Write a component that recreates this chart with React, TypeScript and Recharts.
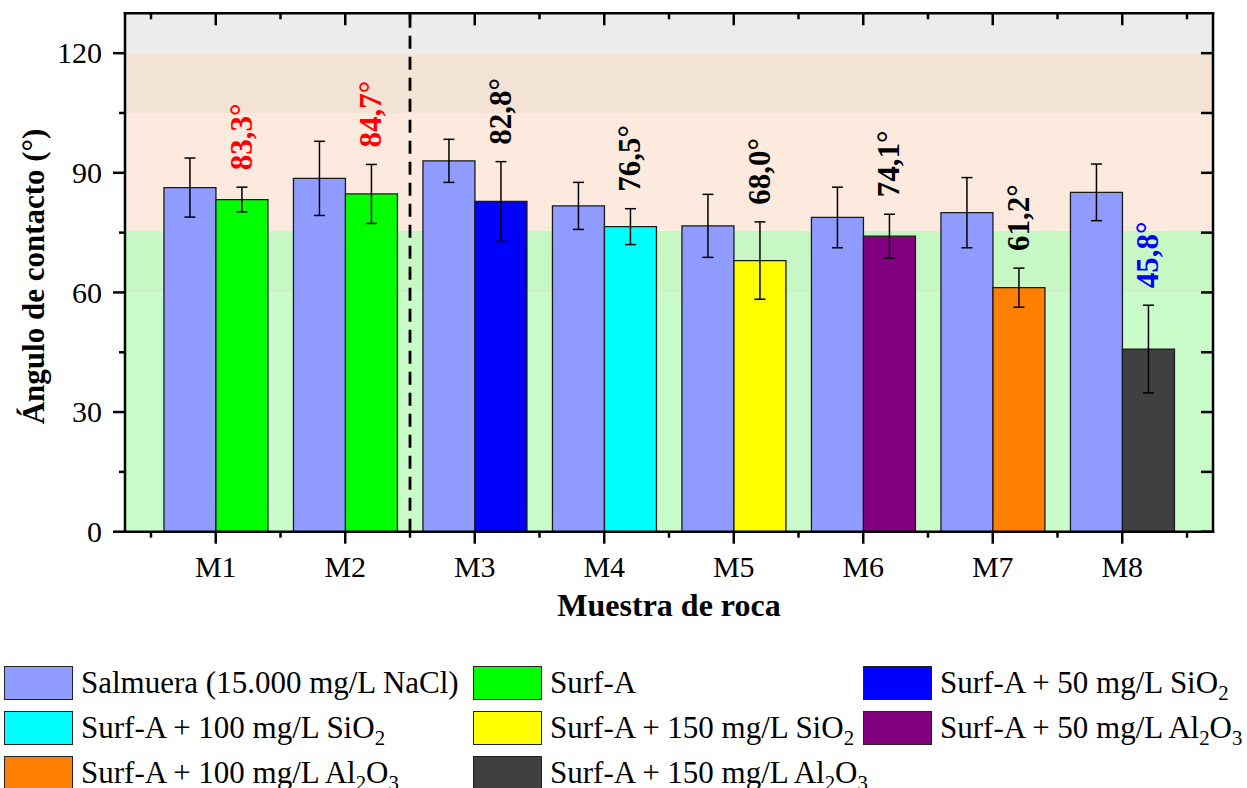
import React from 'react';
import { BarChart, Bar, XAxis, YAxis, ErrorBar, Cell, LabelList, ReferenceArea, ReferenceLine, Label } from 'recharts';

const SERIF = '"Liberation Serif", "Times New Roman", serif';

// datos
const muestras = ['M1', 'M2', 'M3', 'M4', 'M5', 'M6', 'M7', 'M8'];
const salmuera = [86.3, 88.6, 93.0, 81.7, 76.7, 78.8, 80.0, 85.1];
const salmueraErr = [7.4, 9.3, 5.4, 5.9, 7.9, 7.6, 8.8, 7.1];
const tratamiento = [83.3, 84.7, 82.8, 76.5, 68.0, 74.1, 61.2, 45.8];
const tratamientoErr = [3.1, 7.4, 10.0, 4.5, 9.7, 5.5, 4.9, 11.0];
const tratamientoColores = ['#00ff00', '#00ff00', '#0000ff', '#00ffff', '#ffff00', '#800080', '#ff8000', '#404040'];
const etiquetaColores = ['#ff0000', '#ff0000', '#000000', '#000000', '#000000', '#000000', '#000000', '#0000ff'];

const yTicks = [0, 15, 30, 45, 60, 75, 90, 105, 120];

// franjas de fondo (límites en grados)
const franjaLimites = [0, 60, 75.5, 105, 120, 130];
const franjaColores = ['#cafcc9', '#c7f8c4', '#fdeadf', '#f2e3d5', '#ececec'];

const separador = 'M2'; // línea discontinua al final de M2

const leyendaNombres = [
  'Salmuera (15.000 mg/L NaCl)',
  'Surf-A',
  'Surf-A + 50 mg/L SiO2',
  'Surf-A + 100 mg/L SiO2',
  'Surf-A + 150 mg/L SiO2',
  'Surf-A + 50 mg/L Al2O3',
  'Surf-A + 100 mg/L Al2O3',
  'Surf-A + 150 mg/L Al2O3',
];
const leyendaColores = ['#8f9bff', '#00ff00', '#0000ff', '#00ffff', '#ffff00', '#800080', '#ff8000', '#404040'];

const data = muestras.map((name, i) => ({
  name,
  salmuera: salmuera[i],
  salmueraErr: salmueraErr[i],
  tratamiento: tratamiento[i],
  tratamientoErr: tratamientoErr[i],
}));

// geometría
const W = 1247;
const LEFT_W = 125;
const RIGHT_M = 33;
const PAD = 26;
const PLOT_W = W - LEFT_W - RIGHT_M - 1;
const BAND = (PLOT_W - 2 * PAD) / muestras.length;

const fmt = (v: number) => v.toFixed(1).replace('.', ',') + '°';

const LeftTick = (props: any) => {
  const { x, y, payload } = props;
  const major = payload.value % 30 === 0;
  return (
    <g>
      <line x1={x} y1={y} x2={x - (major ? 12 : 6)} y2={y} stroke="#000" strokeWidth={2.5} />
      {major && (
        <text x={x - 23} y={y} dy="0.34em" textAnchor="end" fontSize={30} fontFamily={SERIF} fill="#000">
          {payload.value}
        </text>
      )}
    </g>
  );
};

const RightTick = (props: any) => {
  const { x, y } = props;
  return <line x1={x} y1={y} x2={x - 12} y2={y} stroke="#000" strokeWidth={2.5} />;
};

// marcas menores a mitad de camino entre categorías
const minorXs = (x: number, index: number) => {
  const xs = [x - BAND / 2];
  if (index === muestras.length - 1) xs.push(x + BAND / 2);
  return xs;
};

const BottomTick = (props: any) => {
  const { x, y, payload, index } = props;
  return (
    <g>
      <line x1={x} y1={y} x2={x} y2={y + 12} stroke="#000" strokeWidth={2.5} />
      {minorXs(x, index).map((mx) => (
        <line key={mx} x1={mx} y1={y} x2={mx} y2={y + 6} stroke="#000" strokeWidth={2.5} />
      ))}
      <text x={x} y={y + 45} textAnchor="middle" fontSize={30} fontFamily={SERIF} fill="#000">
        {payload.value}
      </text>
    </g>
  );
};

const TopTick = (props: any) => {
  const { x, y, index } = props;
  return (
    <g>
      <line x1={x} y1={y} x2={x} y2={y + 12} stroke="#000" strokeWidth={2.5} />
      {minorXs(x, index).map((mx) => (
        <line key={mx} x1={mx} y1={y} x2={mx} y2={y + 6} stroke="#000" strokeWidth={2.5} />
      ))}
    </g>
  );
};

const ValueLabel = (props: any) => {
  const vb = props.viewBox ?? props;
  const { x, y, width, height } = vb;
  const index = props.index;
  const v = tratamiento[index];
  const perUnit = height / v;
  const top = y - tratamientoErr[index] * perUnit;
  const cx = x + width / 2;
  return (
    <text
      transform={`translate(${cx + 10}, ${top - 17}) rotate(-90)`}
      fontSize={31}
      fontWeight="bold"
      fontFamily={SERIF}
      fill={etiquetaColores[index]}
    >
      {fmt(v)}
    </text>
  );
};

const YTitle = (props: any) => {
  const vb = props.viewBox ?? { x: 0, y: 13.3, width: 125, height: 518.4 };
  return (
    <text
      transform={`translate(${vb.x + 44}, ${vb.y + vb.height / 2 + 4}) rotate(-90)`}
      textAnchor="middle"
      fontSize={31}
      fontWeight="bold"
      fontFamily={SERIF}
      fill="#000"
    >
      Ángulo de contacto (°)
    </text>
  );
};

const XTitle = (props: any) => {
  const vb = props.viewBox ?? { x: 125, y: 531.7, width: 1088, height: 60 };
  return (
    <text x={vb.x + vb.width / 2} y={vb.y + 84} textAnchor="middle" fontSize={32} fontWeight="bold" fontFamily={SERIF} fill="#000">
      Muestra de roca
    </text>
  );
};

const conSubindices = (s: string) => {
  const parts: React.ReactNode[] = [];
  const re = /(?<=[A-Za-z])\d+/g;
  let last = 0;
  let m: RegExpExecArray | null;
  while ((m = re.exec(s)) !== null) {
    parts.push(s.slice(last, m.index));
    parts.push(
      <sub key={m.index} style={{ fontSize: '0.67em', verticalAlign: '-0.35em', lineHeight: 0 }}>
        {m[0]}
      </sub>
    );
    last = m.index + m[0].length;
  }
  parts.push(s.slice(last));
  return parts;
};

const colX = [4, 473, 863];
const filaY = [666, 711, 756];

const Leyenda = () => (
  <div>
    {leyendaNombres.map((nombre, i) => {
      const left = colX[i % 3];
      const top = filaY[Math.floor(i / 3)];
      return (
        <React.Fragment key={nombre}>
          <div
            style={{
              position: 'absolute',
              left,
              top,
              width: 69,
              height: 34,
              boxSizing: 'border-box',
              border: '1.5px solid #222',
              background: leyendaColores[i],
            }}
          />
          <div
            style={{
              position: 'absolute',
              left: left + 77,
              top,
              fontSize: 31,
              lineHeight: '34px',
              whiteSpace: 'nowrap',
              fontFamily: SERIF,
              color: '#000',
            }}
          >
            {conSubindices(nombre)}
          </div>
        </React.Fragment>
      );
    })}
  </div>
);

const axisLineStyle = { stroke: '#000', strokeWidth: 2.5, strokeLinecap: 'square' as const };

export default function App() {
  return (
    <div style={{ position: 'absolute', left: 0, top: 0, width: W, height: 788, background: '#fff', overflow: 'hidden' }}>
      <BarChart
        width={W}
        height={640}
        data={data}
        margin={{ top: 12.3, right: RIGHT_M, bottom: 48.3, left: 0 }}
        barGap={0}
        barCategoryGap="10%"
        style={{ fontFamily: SERIF }}
      >
        <XAxis xAxisId="full" dataKey="name" hide />
        <XAxis
          xAxisId="cat"
          dataKey="name"
          padding={{ left: PAD, right: PAD }}
          interval={0}
          height={60}
          tickSize={0}
          tickMargin={0}
          tickLine={false}
          axisLine={axisLineStyle}
          tick={<BottomTick />}
        >
          <Label content={<XTitle />} />
        </XAxis>
        <XAxis
          xAxisId="top"
          orientation="top"
          dataKey="name"
          padding={{ left: PAD, right: PAD }}
          interval={0}
          height={1}
          tickSize={0}
          tickMargin={0}
          tickLine={false}
          axisLine={axisLineStyle}
          tick={<TopTick />}
        />
        <YAxis
          yAxisId="left"
          domain={[0, 130]}
          allowDataOverflow
          ticks={yTicks}
          interval={0}
          width={LEFT_W}
          tickSize={0}
          tickMargin={0}
          tickLine={false}
          axisLine={axisLineStyle}
          tick={<LeftTick />}
        >
          <Label content={<YTitle />} />
        </YAxis>
        <YAxis
          yAxisId="right"
          orientation="right"
          domain={[0, 130]}
          allowDataOverflow
          ticks={yTicks}
          interval={0}
          width={1}
          tickSize={0}
          tickMargin={0}
          tickLine={false}
          axisLine={axisLineStyle}
          tick={<RightTick />}
        />

        {franjaColores.map((color, i) => (
          <ReferenceArea
            key={color}
            xAxisId="full"
            yAxisId="left"
            y1={franjaLimites[i]}
            y2={franjaLimites[i + 1]}
            fill={color}
            fillOpacity={1}
            stroke="none"
          />
        ))}
        <ReferenceLine
          xAxisId="cat"
          yAxisId="left"
          x={separador}
          position="end"
          stroke="#000"
          strokeWidth={2.8}
          strokeDasharray="13 8"
        />

        <Bar xAxisId="cat" yAxisId="left" dataKey="salmuera" fill="#8f9bff" stroke="#1a1a1a" strokeWidth={1.3} isAnimationActive={false}>
          <ErrorBar dataKey="salmueraErr" width={5.5} stroke="#000" strokeWidth={1.5} />
        </Bar>
        <Bar xAxisId="cat" yAxisId="left" dataKey="tratamiento" stroke="#1a1a1a" strokeWidth={1.3} isAnimationActive={false}>
          {tratamiento.map((_, i) => (
            <Cell key={muestras[i]} fill={tratamientoColores[i]} />
          ))}
          <ErrorBar dataKey="tratamientoErr" width={5.5} stroke="#000" strokeWidth={1.5} />
          <LabelList dataKey="tratamiento" content={<ValueLabel />} />
        </Bar>
      </BarChart>
      <Leyenda />
    </div>
  );
}
